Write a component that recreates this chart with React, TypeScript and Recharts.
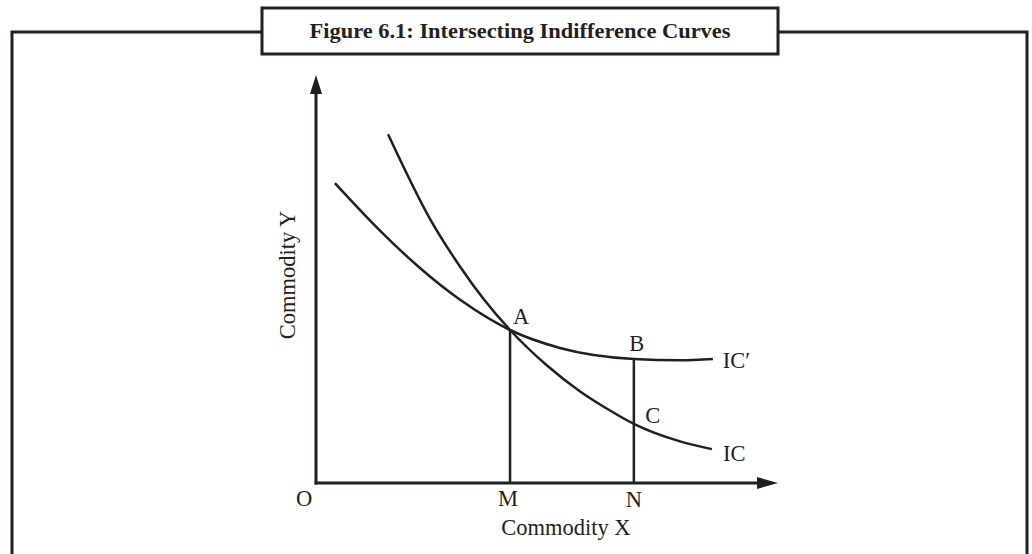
import React from 'react';
import { LineChart, Line, XAxis, YAxis, ReferenceLine, ReferenceDot } from 'recharts';

// Indifference curve IC (steeper)
const icX = [15.6, 24.7, 31.2, 36.4, 42.0, 50.0, 57.1, 63.0, 68.8, 78.8, 85.7];
const icY = [85.5, 64.7, 53.0, 44.9, 37.5, 28.8, 22.5, 18.2, 14.5, 10.2, 8.3];
// Indifference curve IC' (flatter)
const icPrimeX = [4.1, 13.9, 22.5, 31.2, 42.0, 52.8, 68.8, 78.8, 85.9];
const icPrimeY = [73.5, 61.8, 52.7, 44.9, 37.5, 33.1, 30.4, 30.1, 30.4];

// Key points
const pointNames = ['A', 'B', 'C'];
const pointX = [42.0, 68.8, 68.8];
const pointY = [37.5, 30.4, 14.5];
const xTickLabels = ['O', 'M', 'N'];
const xTickValues = [0, 42.0, 68.8];

const title = 'Figure 6.1: Intersecting Indifference Curves';
const xAxisTitle = 'Commodity X';
const yAxisTitle = 'Commodity Y';
const curveNames = ['IC′', 'IC'];

const icData = icX.map((x, i) => ({ x, y: icY[i] }));
const icPrimeData = icPrimeX.map((x, i) => ({ x, y: icPrimeY[i] }));

const INK = '#231f20';
const FONT = '"Liberation Serif", "DejaVu Serif", serif';
const LABEL_SIZE = 22.5;

const textShape = (text: string, dx: number, dy: number, anchor: string = 'middle', size: number = LABEL_SIZE, rotate: boolean = false) =>
  (p: any) => {
    const x = p.cx + dx;
    const y = p.cy + dy;
    return (
      <text
        x={x}
        y={y}
        textAnchor={anchor}
        dominantBaseline="central"
        fontFamily={FONT}
        fontSize={size}
        fill={INK}
        transform={rotate ? `rotate(-90 ${x} ${y})` : undefined}
      >
        {text}
      </text>
    );
  };

const arrowRight = (p: any) => (
  <polygon points={`${p.cx},${p.cy} ${p.cx - 21},${p.cy - 6} ${p.cx - 21},${p.cy + 6}`} fill={INK} />
);
const arrowUp = (p: any) => (
  <polygon points={`${p.cx},${p.cy} ${p.cx - 6},${p.cy + 19} ${p.cx + 6},${p.cy + 19}`} fill={INK} />
);

export default function App() {
  return (
    <div style={{ position: 'absolute', left: 0, top: 0, width: 1032, height: 554, background: '#fff' }}>
      <svg width={1032} height={554} style={{ position: 'absolute', left: 0, top: 0 }}>
        <path d="M12,556 L12,32 L1027,32 L1027,556" fill="none" stroke={INK} strokeWidth={3} />
        <rect x={262} y={8} width={516} height={46} fill="#fff" stroke={INK} strokeWidth={3} />
        <text x={520} y={31} textAnchor="middle" dominantBaseline="central" fontFamily={FONT} fontWeight="bold" fontSize={20.5} fill={INK} textLength={421} lengthAdjust="spacingAndGlyphs">
          {title}
        </text>
      </svg>
      <div style={{ position: 'absolute', left: 0, top: 0 }}>
        <LineChart width={1032} height={554} margin={{ top: 75, right: 254, bottom: 71, left: 316 }}>
          <XAxis type="number" dataKey="x" domain={[0, 100]} hide />
          <YAxis type="number" dataKey="y" domain={[0, 100]} hide />

          {/* axes */}
          <ReferenceLine segment={[{ x: 0, y: 0 }, { x: 97, y: 0 }]} stroke={INK} strokeWidth={3} strokeLinecap="square" ifOverflow="visible" />
          <ReferenceLine segment={[{ x: 0, y: 0 }, { x: 0, y: 97 }]} stroke={INK} strokeWidth={3} strokeLinecap="square" ifOverflow="visible" />
          <ReferenceDot x={100} y={0} r={0} shape={arrowRight} ifOverflow="visible" />
          <ReferenceDot x={0} y={100} r={0} shape={arrowUp} ifOverflow="visible" />

          {/* drop lines */}
          <ReferenceLine segment={[{ x: pointX[0], y: 0 }, { x: pointX[0], y: pointY[0] }]} stroke={INK} strokeWidth={2.5} ifOverflow="visible" />
          <ReferenceLine segment={[{ x: pointX[1], y: 0 }, { x: pointX[1], y: pointY[1] }]} stroke={INK} strokeWidth={2.5} ifOverflow="visible" />

          <Line data={icPrimeData} dataKey="y" type="monotone" stroke={INK} strokeWidth={2.5} dot={false} isAnimationActive={false} />
          <Line data={icData} dataKey="y" type="monotone" stroke={INK} strokeWidth={2.5} dot={false} isAnimationActive={false} />

          {/* point labels */}
          <ReferenceDot x={pointX[0]} y={pointY[0]} r={0} shape={textShape(pointNames[0], 11, -14)} ifOverflow="visible" />
          <ReferenceDot x={pointX[1]} y={pointY[1]} r={0} shape={textShape(pointNames[1], 3, -15)} ifOverflow="visible" />
          <ReferenceDot x={pointX[2]} y={pointY[2]} r={0} shape={textShape(pointNames[2], 19, -8)} ifOverflow="visible" />

          {/* curve labels */}
          <ReferenceDot x={icPrimeX[icPrimeX.length - 1]} y={icPrimeY[icPrimeY.length - 1]} r={0} shape={textShape(curveNames[0], 10, 2, 'start')} ifOverflow="visible" />
          <ReferenceDot x={icX[icX.length - 1]} y={icY[icY.length - 1]} r={0} shape={textShape(curveNames[1], 11, 4, 'start')} ifOverflow="visible" />

          {/* x tick labels */}
          <ReferenceDot x={xTickValues[0]} y={0} r={0} shape={textShape(xTickLabels[0], -12, 15)} ifOverflow="visible" />
          <ReferenceDot x={xTickValues[1]} y={0} r={0} shape={textShape(xTickLabels[1], -2, 15)} ifOverflow="visible" />
          <ReferenceDot x={xTickValues[2]} y={0} r={0} shape={textShape(xTickLabels[2], 0, 16)} ifOverflow="visible" />

          {/* axis titles */}
          <ReferenceDot x={54.1} y={0} r={0} shape={textShape(xAxisTitle, 0, 44)} ifOverflow="visible" />
          <ReferenceDot x={0} y={51} r={0} shape={textShape(yAxisTitle, -28, 0, 'middle', LABEL_SIZE, true)} ifOverflow="visible" />
        </LineChart>
      </div>
    </div>
  );
}
